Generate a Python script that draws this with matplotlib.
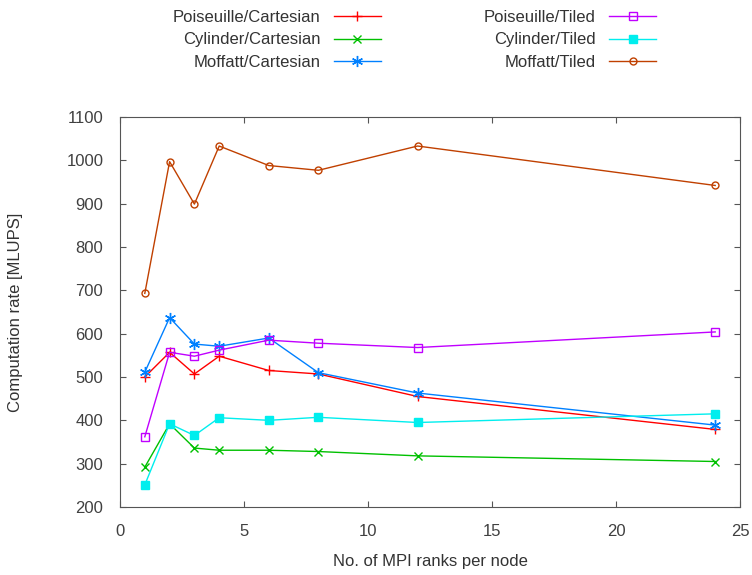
import matplotlib
matplotlib.use('Agg')
import matplotlib.pyplot as plt

ranks = [1, 2, 3, 4, 6, 8, 12, 24]

pois_cart = [500, 557, 507, 548, 515, 507, 455, 379]
cyl_cart = [292, 392, 336, 331, 331, 328, 318, 305]
moff_cart = [511, 637, 576, 571, 590, 510, 463, 389]
pois_tiled = [362, 557, 548, 562, 585, 578, 568, 604]
cyl_tiled = [251, 392, 365, 406, 400, 407, 395, 415]
moff_tiled = [693, 997, 899, 1033, 988, 977, 1033, 942]

plt.rcParams['font.family'] = ['Liberation Sans', 'DejaVu Sans']
plt.rcParams['font.size'] = 12
plt.rcParams['text.color'] = '#333333'
plt.rcParams['axes.labelcolor'] = '#333333'

fig = plt.figure(figsize=(7.52, 5.75), dpi=100)
ax = fig.add_axes([120/752, 1 - 507/575, 620/752, 390/575])

# column 1: cartesian, column 2: tiled
ax.plot(ranks, pois_cart, color='#ff0000', marker='+', ms=7, lw=1, label='Poiseuille/Cartesian')
ax.plot(ranks, cyl_cart, color='#00c000', marker='x', ms=6, lw=1, label='Cylinder/Cartesian')
ax.plot(ranks, moff_cart, color='#0080ff', marker=(6, 2, 0), ms=8, lw=1, label='Moffatt/Cartesian')
ax.plot(ranks, pois_tiled, color='#c000ff', marker='s', ms=5.5, mfc='none', lw=1, label='Poiseuille/Tiled')
ax.plot(ranks, cyl_tiled, color='#00eeee', marker='s', ms=6, lw=1, label='Cylinder/Tiled')
ax.plot(ranks, moff_tiled, color='#c04000', marker='o', ms=5, mfc='none', lw=1, label='Moffatt/Tiled')

ax.set_xlim(0, 25)
ax.set_ylim(200, 1100)
ax.set_xticks(range(0, 26, 5))
ax.set_yticks(range(200, 1101, 100))
for s in ax.spines.values():
    s.set_color('#555555')
ax.tick_params(direction='in', top=True, right=True, length=4, color='#555555',
               labelcolor='#404040')
ax.tick_params(axis='y', pad=12)
ax.tick_params(axis='x', pad=12)
ax.set_xlabel('No. of MPI ranks per node', labelpad=11)
ax.set_ylabel('Computation rate [MLUPS]', labelpad=31)

fig.legend(loc='upper left', bbox_to_anchor=(173/752, 1 - 10/575), ncol=2, frameon=False,
           borderaxespad=0, borderpad=0, markerfirst=False, handlelength=2.8,
           columnspacing=6.2, labelspacing=0.44, handletextpad=0.8)

fig.savefig('out.png', dpi=100)
